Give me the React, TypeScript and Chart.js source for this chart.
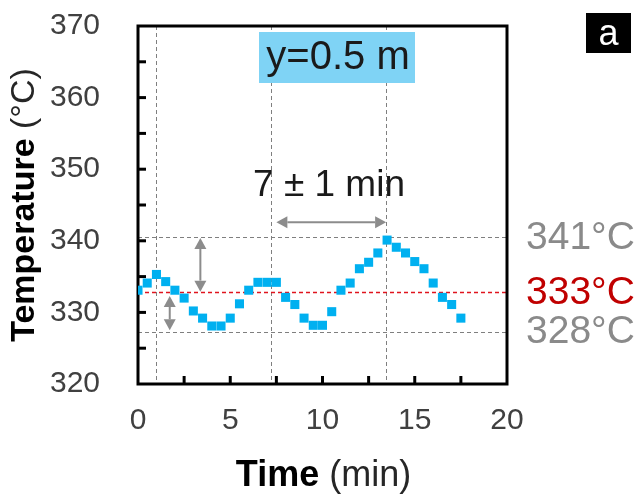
import React, { useEffect, useRef } from 'react';
import { Chart, registerables } from 'chart.js';

Chart.register(...registerables);

// ---- data ----
const times = [0, 0.5, 1, 1.5, 2, 2.5, 3, 3.5, 4, 4.5, 5, 5.5, 6, 6.5, 7, 7.5, 8, 8.5, 9, 9.5, 10, 10.5, 11, 11.5, 12, 12.5, 13, 13.5, 14, 14.5, 15, 15.5, 16, 16.5, 17, 17.5];
const temps = [333.1, 334.1, 335.3, 334.3, 333.1, 332.0, 330.2, 329.2, 328.1, 328.1, 329.2, 331.2, 333.1, 334.2, 334.2, 334.2, 332.1, 331.1, 329.2, 328.2, 328.2, 330.1, 333.1, 334.1, 336.1, 337.0, 338.3, 340.1, 339.1, 338.3, 337.1, 336.1, 334.1, 332.1, 331.1, 329.2];

const xMin = 0;
const xMax = 20;
const xMajorStep = 5;
const xMinorStep = 2.5;
const yMin = 320;
const yMax = 370;
const yMajorStep = 10;
const yMinorStep = 5;

const refTemps = [340.5, 332.8, 327.3];
const refLabels = ['341°C', '333°C', '328°C'];
const refColors = ['#8a8a8a', '#c00000', '#8a8a8a'];
const refLineColors = ['#7f7f7f', '#e0141e', '#7f7f7f'];
const markerTimes = [0.97, 7.2, 13.45];

// arrows: [t1, T1, t2, T2]
const periodArrow = [7.5, 342.6, 13.45, 342.6];
const ampArrowUpper = [3.38, 340.4, 3.38, 332.9];
const ampArrowLower = [1.72, 332.3, 1.72, 327.5];

const periodLabel = '7 ± 1 min';
const panelTitle = 'y=0.5 m';
const panelLetter = 'a';
const xTitleBold = 'Time';
const xTitleRest = ' (min)';
const yTitleBold = 'Temperature';
const yTitleRest = ' (°C)';

const FONT = "'Liberation Sans', Arial, sans-serif";

function drawMixed(ctx: CanvasRenderingContext2D, parts: [string, string, string][], cx: number, baseY: number) {
  let total = 0;
  for (const [t, f] of parts) {
    ctx.font = f;
    total += ctx.measureText(t).width;
  }
  let x = cx - total / 2;
  ctx.textAlign = 'left';
  ctx.textBaseline = 'alphabetic';
  for (const [t, f, c] of parts) {
    ctx.font = f;
    ctx.fillStyle = c;
    ctx.fillText(t, x, baseY);
    x += ctx.measureText(t).width;
  }
}

function arrowHead(ctx: CanvasRenderingContext2D, x: number, y: number, ang: number, len: number, half: number) {
  ctx.beginPath();
  ctx.moveTo(x, y);
  ctx.lineTo(x - len * Math.cos(ang) + half * Math.sin(ang), y - len * Math.sin(ang) - half * Math.cos(ang));
  ctx.lineTo(x - len * Math.cos(ang) - half * Math.sin(ang), y - len * Math.sin(ang) + half * Math.cos(ang));
  ctx.closePath();
  ctx.fill();
}

function doubleArrow(ctx: CanvasRenderingContext2D, x1: number, y1: number, x2: number, y2: number) {
  const ang = Math.atan2(y2 - y1, x2 - x1);
  const len = 11;
  ctx.beginPath();
  ctx.moveTo(x1 + len * Math.cos(ang), y1 + len * Math.sin(ang));
  ctx.lineTo(x2 - len * Math.cos(ang), y2 - len * Math.sin(ang));
  ctx.stroke();
  arrowHead(ctx, x2, y2, ang, len, 6);
  arrowHead(ctx, x1, y1, ang + Math.PI, len, 6);
}

const overlay = {
  id: 'overlay',
  beforeDatasetsDraw(chart: any) {
    const { ctx, chartArea: a, scales } = chart;
    const x = scales.x;
    const y = scales.y;
    ctx.save();
    // vertical dashed markers
    ctx.lineWidth = 1;
    ctx.setLineDash([4, 3]);
    ctx.strokeStyle = '#7f7f7f';
    for (const t of markerTimes) {
      const px = Math.round(x.getPixelForValue(t)) + 0.5;
      ctx.beginPath();
      ctx.moveTo(px, a.top);
      ctx.lineTo(px, a.bottom);
      ctx.stroke();
    }
    // horizontal reference lines
    refTemps.forEach((v, i) => {
      const py = Math.round(y.getPixelForValue(v)) + 0.5;
      ctx.strokeStyle = refLineColors[i];
      ctx.lineWidth = i === 1 ? 1.5 : 1;
      ctx.beginPath();
      ctx.moveTo(a.left, py);
      ctx.lineTo(a.right, py);
      ctx.stroke();
    });
    ctx.setLineDash([]);
    // frame
    ctx.strokeStyle = '#000';
    ctx.lineWidth = 3;
    ctx.strokeRect(a.left, a.top, a.right - a.left, a.bottom - a.top);
    // inward ticks
    ctx.lineWidth = 3;
    for (let v = xMin + xMinorStep; v < xMax; v += xMinorStep) {
      const px = x.getPixelForValue(v);
      ctx.beginPath();
      ctx.moveTo(px, a.bottom);
      ctx.lineTo(px, a.bottom - 8);
      ctx.stroke();
    }
    for (let v = yMin + yMinorStep; v < yMax; v += yMinorStep) {
      const py = y.getPixelForValue(v);
      ctx.beginPath();
      ctx.moveTo(a.left, py);
      ctx.lineTo(a.left + 8, py);
      ctx.stroke();
    }
    ctx.restore();
  },
  afterDraw(chart: any) {
    const { ctx, chartArea: a, scales } = chart;
    const x = scales.x;
    const y = scales.y;
    ctx.save();
    // arrows
    ctx.strokeStyle = '#8c8c8c';
    ctx.fillStyle = '#8c8c8c';
    ctx.lineWidth = 2;
    for (const ar of [periodArrow, ampArrowUpper, ampArrowLower]) {
      doubleArrow(ctx, x.getPixelForValue(ar[0]), y.getPixelForValue(ar[1]), x.getPixelForValue(ar[2]), y.getPixelForValue(ar[3]));
    }
    // period label
    ctx.fillStyle = '#1a1a1a';
    ctx.font = `37px ${FONT}`;
    ctx.textAlign = 'center';
    ctx.textBaseline = 'alphabetic';
    ctx.fillText(periodLabel, 329, 196);

    // reference labels
    ctx.textAlign = 'left';
    ctx.font = `39px ${FONT}`;
    refTemps.forEach((v, i) => {
      ctx.fillStyle = refColors[i];
      const py = y.getPixelForValue(v);
      ctx.textBaseline = 'middle';
      ctx.fillText(refLabels[i], 526, py + 1);
    });

    // panel title box
    ctx.fillStyle = '#7fd3f5';
    ctx.fillRect(259, 32, 156, 51);
    ctx.fillStyle = '#1a1a1a';
    ctx.font = `40px ${FONT}`;
    ctx.textAlign = 'center';
    ctx.textBaseline = 'alphabetic';
    ctx.fillText(panelTitle, 338, 69);

    // panel letter
    ctx.fillStyle = '#000';
    ctx.fillRect(586, 13, 45, 40);
    ctx.fillStyle = '#fff';
    ctx.font = `36px ${FONT}`;
    ctx.fillText(panelLetter, 608.5, 45);

    // axis titles
    const midX = (a.left + a.right) / 2;
    drawMixed(ctx, [
      [xTitleBold, `bold 36px ${FONT}`, '#000'],
      [xTitleRest, `36px ${FONT}`, '#262626'],
    ], midX + 1, 486);
    ctx.save();
    ctx.translate(34, (a.top + a.bottom) / 2);
    ctx.rotate(-Math.PI / 2);
    drawMixed(ctx, [
      [yTitleBold, `bold 34px ${FONT}`, '#000'],
      [yTitleRest, `34px ${FONT}`, '#262626'],
    ], 0, 0);
    ctx.restore();
    ctx.restore();
  },
};

export default function App() {
  const ref = useRef<HTMLCanvasElement | null>(null);
  useEffect(() => {
    if (!ref.current) return;
    const chart = new Chart(ref.current, {
      type: 'scatter',
      data: {
        datasets: [
          {
            data: times.map((t, i) => ({ x: t, y: temps[i] })),
            pointStyle: 'rect',
            pointRadius: 6.4,
            pointBackgroundColor: '#00b0f0',
            pointBorderWidth: 0,
            borderWidth: 0,
            showLine: false,
          },
        ],
      },
      options: {
        animation: false,
        responsive: false,
        devicePixelRatio: 1,
        events: [],
        layout: { padding: { left: 0, top: 26, right: 136, bottom: 0 } },
        plugins: { legend: { display: false }, tooltip: { enabled: false }, title: { display: false } },
        scales: {
          x: {
            type: 'linear',
            min: xMin,
            max: xMax,
            afterFit: (s: any) => { s.height = 116; s.paddingLeft = 0; s.paddingRight = 0; },
            grid: { display: false, drawTicks: false },
            border: { display: false },
            ticks: {
              stepSize: xMajorStep,
              padding: 19,
              color: '#404040',
              font: { family: FONT, size: 30 },
              maxRotation: 0,
            },
          },
          y: {
            type: 'linear',
            min: yMin,
            max: yMax,
            afterFit: (s: any) => { s.width = 138; s.paddingTop = 0; s.paddingBottom = 0; },
            grid: { display: false, drawTicks: false },
            border: { display: false },
            ticks: {
              stepSize: yMajorStep,
              padding: 38,
              color: '#404040',
              font: { family: FONT, size: 30 },
            },
          },
        },
      },
      plugins: [overlay],
    });
    return () => chart.destroy();
  }, []);
  return (
    <div style={{ position: 'fixed', left: 0, top: 0, width: 643, height: 500, background: '#fff' }}>
      <canvas ref={ref} width={643} height={500} style={{ width: 643, height: 500 }} />
    </div>
  );
}
